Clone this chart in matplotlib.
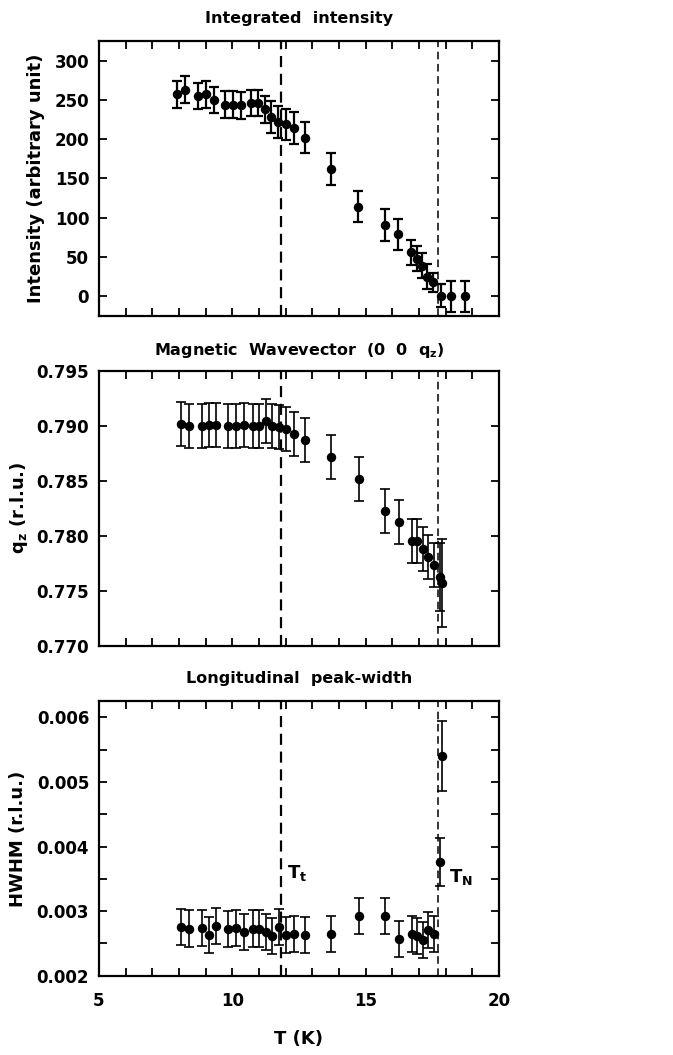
import matplotlib
matplotlib.use("Agg")
import matplotlib.pyplot as plt
from matplotlib.ticker import MultipleLocator

plt.rcParams['font.family'] = ['DejaVu Sans']
plt.rcParams['font.weight'] = 'bold'
plt.rcParams['axes.titleweight'] = 'bold'
plt.rcParams['axes.labelweight'] = 'bold'

# temperatures (K)
t_int = [7.93, 8.21, 8.71, 9.03, 9.31, 9.71, 10.01, 10.31, 10.70, 10.95, 11.21, 11.46,
         11.71, 12.01, 12.33, 12.71, 13.71, 14.71, 15.71, 16.21, 16.71, 16.93, 17.11,
         17.31, 17.53, 17.81, 18.21, 18.71]
t_q = [8.06, 8.36, 8.85, 9.13, 9.40, 9.85, 10.13, 10.43, 10.76, 11.01, 11.25, 11.49,
       11.74, 12.03, 12.33, 12.71, 13.69, 14.74, 15.74, 16.24, 16.74, 16.93, 17.15,
       17.35, 17.56, 17.78, 17.88]

# integrated intensity
intensity = [257, 263, 255, 257, 250, 244, 244, 243, 246, 246, 238, 228,
             222, 219, 214, 202, 162, 114, 91, 79, 56, 48, 39, 25, 18, 1, 0, 0]
intensity_err = [17, 17, 17, 17, 17, 17, 17, 17, 17, 17, 17, 20,
                 20, 20, 20, 20, 20, 20, 20, 20, 16, 16, 16, 16, 12, 15, 20, 20]

# magnetic wavevector
qz = [0.79015, 0.79000, 0.78997, 0.79006, 0.79003, 0.78997, 0.79000, 0.79003, 0.79000,
      0.79000, 0.79042, 0.79000, 0.78985, 0.78970, 0.78921, 0.78870, 0.78712, 0.78512,
      0.78224, 0.78121, 0.77951, 0.77948, 0.77882, 0.77809, 0.77730, 0.77627, 0.77573]
qz_err = [0.002] * 25 + [0.0031, 0.0040]

# longitudinal peak width
hwhm = [0.00276, 0.00273, 0.00274, 0.00263, 0.00277, 0.00272, 0.00274, 0.00267, 0.00273,
        0.00273, 0.00268, 0.00262, 0.00276, 0.00263, 0.00264, 0.00263, 0.00264, 0.00293,
        0.00293, 0.00257, 0.00265, 0.00262, 0.00255, 0.00271, 0.00265, 0.00376, 0.00540]
hwhm_err = [0.00028] * 25 + [0.00037, 0.00054]

T_t = 11.84
T_N = 17.71

fig = plt.figure(figsize=(6.73, 10.55), dpi=100)
ax1 = fig.add_axes([0.147, 0.7005, 0.5945, 0.2607])
ax2 = fig.add_axes([0.147, 0.388, 0.5945, 0.2607])
ax3 = fig.add_axes([0.147, 0.0752, 0.5945, 0.2600])

eb = dict(fmt='o', color='black', markersize=5.8, capsize=3.3, elinewidth=1.6, capthick=1.6)

ax1.errorbar(t_int, intensity, yerr=intensity_err, **eb)
ax1.set_ylim(-25, 325)
ax1.yaxis.set_major_locator(MultipleLocator(50))
ax1.set_ylabel('Intensity (arbitrary unit)', fontsize=13, labelpad=7)
ax1.set_title('Integrated  intensity', fontsize=11.5, pad=13)

eb2 = dict(eb, elinewidth=1.2, capthick=1.2)
ax2.errorbar(t_q, qz, yerr=qz_err, **eb2)
ax2.set_ylim(0.770, 0.795)
ax2.yaxis.set_major_locator(MultipleLocator(0.005))
ax2.yaxis.set_major_formatter(plt.FormatStrFormatter('%.3f'))
ax2.set_ylabel(r'q$_\mathbf{z}$ (r.l.u.)', fontsize=13, labelpad=5)
ax2.set_title(r'Magnetic  Wavevector  (0  0  q$_\mathbf{z}$)', fontsize=11.5, pad=11)

ax3.errorbar(t_q, hwhm, yerr=hwhm_err, **eb2)
ax3.set_ylim(0.002, 0.00625)
ax3.yaxis.set_major_locator(MultipleLocator(0.001))
ax3.yaxis.set_minor_locator(MultipleLocator(0.0005))
ax3.yaxis.set_major_formatter(plt.FormatStrFormatter('%.3f'))
ax3.set_ylabel('HWHM (r.l.u.)', fontsize=13, labelpad=7)
ax3.set_title('Longitudinal  peak-width', fontsize=11.5, pad=13)
ax3.set_xlabel('T (K)', fontsize=13, labelpad=14)
ax3.text(T_t + 0.2, 0.00352, r'T$_\mathbf{t}$', fontsize=13)
ax3.text(T_N + 0.4, 0.00345, r'T$_\mathbf{N}$', fontsize=13)

for ax in (ax1, ax2, ax3):
    ax.set_xlim(5, 20)
    ax.xaxis.set_major_locator(MultipleLocator(5))
    ax.xaxis.set_minor_locator(MultipleLocator(1))
    ax.axvline(T_t, color='black', linestyle=(0, (5, 3)), linewidth=1.6)
    ax.axvline(T_N, color='black', linestyle=(0, (5, 3)), linewidth=1.1)
    ax.tick_params(which='both', direction='in', top=True, right=True, width=1.3,
                   length=6, labelsize=12)
    ax.tick_params(axis='y', which='both', pad=7)
    ax.tick_params(axis='x', which='both', pad=12)
    for s in ax.spines.values():
        s.set_linewidth(1.6)

ax1.tick_params(labelbottom=False)
ax2.tick_params(labelbottom=False)

fig.savefig('out.png', dpi=100)
